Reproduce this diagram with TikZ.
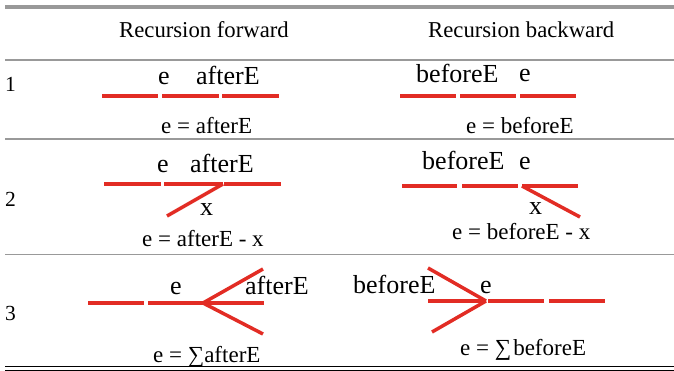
\documentclass[tikz,border=0pt]{standalone}
\usepackage{fontspec}
\setmainfont{Liberation Serif}
\definecolor{segred}{RGB}{226,44,36}
\definecolor{rulegray}{RGB}{153,153,153}

\begin{document}
\begin{tikzpicture}[x=1pt, y=-1pt,
  seg/.style={segred, line width=3.5pt},
  rulel/.style={rulegray, line width=1.6pt},
  head/.style={anchor=base west, inner sep=0pt, font=\fontsize{22.7}{26}\selectfont},
  lbl/.style={anchor=base west, inner sep=0pt, font=\fontsize{26}{30}\selectfont},
  eqn/.style={anchor=base west, inner sep=0pt, font=\fontsize{23}{26}\selectfont},
  num/.style={anchor=base west, inner sep=0pt, font=\fontsize{21.5}{24}\selectfont}]
  \useasboundingbox (0,0) rectangle (674,371);

  % table rules
  \draw[rulegray, line width=4pt] (5,7) -- (674,7);
  \draw[rulel] (5,60) -- (674,60);
  \draw[rulel] (5,139) -- (674,139);
  \draw[rulel] (5,254.5) -- (674,254.5);
  \draw[black, line width=1.2pt] (5,366.5) -- (674,366.5);
  \draw[black, line width=1.2pt] (5,370.3) -- (674,370.3);

  % header
  \node[head] (hfw) at (119,38) {Recursion forward};
  \node[head] (hbw) at (428,38) {Recursion backward};

  % row numbers
  \node[num] (n1) at (5,92) {1};
  \node[num] (n2) at (5,207) {2};
  \node[num] (n3) at (5,320) {3};

  % row 1
  \node[lbl] (e1f) at (158,85) {e};
  \node[lbl] (a1f) at (196,85) {afterE};
  \node[eqn] (q1f) at (161,134) {e = afterE};
  \draw[seg] (102,96) -- (158,96);
  \draw[seg] (162,96) -- (219,96);
  \draw[seg] (222,96) -- (279,96);

  \node[lbl] (b1b) at (416,83) {beforeE};
  \node[lbl] (e1b) at (519,82) {e};
  \node[eqn] (q1b) at (466,134) {e = beforeE};
  \draw[seg] (400,96) -- (456,96);
  \draw[seg] (460,96) -- (516,96);
  \draw[seg] (520,96) -- (576,96);

  % row 2
  \node[lbl] (e2f) at (157,173) {e};
  \node[lbl] (a2f) at (190,173) {afterE};
  \node[lbl] (x2f) at (200,216) {x};
  \node[eqn] (q2f) at (142,247) {e = afterE - x};
  \coordinate (v2f) at (223,184);
  \draw[seg] (104,184) -- (161,184);
  \draw[seg] (164,184) -- (v2f);
  \draw[seg] (224,184) -- (281,184);
  \draw[seg] (v2f) -- (167,216);

  \node[lbl] (b2b) at (422,170) {beforeE};
  \node[lbl] (e2b) at (519,170) {e};
  \node[lbl] (x2b) at (529,215) {x};
  \node[eqn] (q2b) at (452,240) {e = beforeE - x};
  \coordinate (v2b) at (522,186);
  \draw[seg] (402,186) -- (457,186);
  \draw[seg] (462,186) -- (518,186);
  \draw[seg] (v2b) -- (578,186);
  \draw[seg] (v2b) -- (580,217);

  % row 3
  \node[lbl] (e3f) at (170,294) {e};
  \node[lbl] (a3f) at (245,294) {afterE};
  \node[eqn] (q3f) at (153,362) {e = ∑afterE};
  \coordinate (v3f) at (203,303);
  \draw[seg] (88,303) -- (144,303);
  \draw[seg] (148,303) -- (v3f);
  \draw[seg] (v3f) -- (264,303);
  \draw[seg] (v3f) -- (263,269);
  \draw[seg] (v3f) -- (263,334);

  \node[lbl] (b3b) at (353,293) {beforeE};
  \node[lbl] (e3b) at (480,293) {e};
  \node[eqn] (q3b) at (460,355) {e = ∑\hspace{2pt}beforeE};
  \coordinate (v3b) at (486,301);
  \draw[seg] (428,301) -- (v3b);
  \draw[seg] (428,268) -- (v3b);
  \draw[seg] (432,332) -- (v3b);
  \draw[seg] (488,301) -- (544,301);
  \draw[seg] (549,301) -- (605,301);
\end{tikzpicture}
\end{document}
